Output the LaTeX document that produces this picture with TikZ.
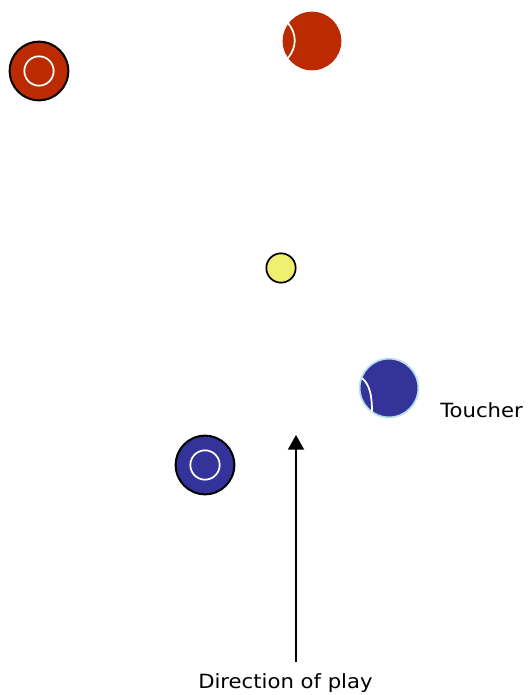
\documentclass[tikz,border=0pt]{standalone}
\usepackage{fontspec}
\newfontfamily\labelfont[FakeStretch=1.08]{DejaVu Sans}
\usetikzlibrary{arrows.meta}
\definecolor{redteam}{HTML}{BB2A00}
\definecolor{blueteam}{HTML}{333399}
\definecolor{jackyellow}{HTML}{F0F070}
\definecolor{touchrim}{HTML}{B8E0E8}
\tikzset{
  bowl/.style={circle, draw=black, line width=1.5pt, minimum size=44pt, inner sep=0pt},
  ball/.style={circle, minimum size=44pt, inner sep=0pt},
  ring/.style={circle, draw=white, line width=1.3pt, minimum size=22pt, inner sep=0pt},
  seam/.style={draw=white, line width=1.3pt},
  label/.style={font=\labelfont\fontsize{14.7}{17}\selectfont, inner sep=0pt},
}
\begin{document}
\begin{tikzpicture}[x=0.75pt, y=-0.75pt]
    \useasboundingbox (0,0) rectangle (529,695);

    % red side
    \node[bowl, fill=redteam] (redbowl) at (39,71) {};
    \node[ring] (redring) at (redbowl.center) {};
    \node[ball, fill=redteam] (redball) at (312,41) {};
    \draw[seam] (288,23) .. controls (297,34) and (297,47) .. (288,58);

    % jack
    \node[circle, draw=black, line width=1.3pt, fill=jackyellow, minimum size=22pt, inner sep=0pt] (jack) at (281,268) {};

    % blue side
    \node[ball, fill=blueteam, draw=touchrim, line width=1.3pt] (toucher) at (389,388) {};
    \draw[seam] (362,378) .. controls (370,385) and (372,396) .. (372,412);
    \node[label, anchor=base west] (touchlabel) at (440,417) {Toucher};
    \node[bowl, fill=blueteam] (bluebowl) at (205,465) {};
    \node[ring] (bluering) at (bluebowl.center) {};

    % direction
    \node[label, anchor=base west] (direction) at (198,688) {Direction of play};
    \coordinate (arrowtail) at (296,662);
    \coordinate (arrowtip) at (296,435);
    \draw[line width=1.4pt, -{Triangle[width=12pt, length=11pt]}] (arrowtail) -- (arrowtip);
\end{tikzpicture}
\end{document}
